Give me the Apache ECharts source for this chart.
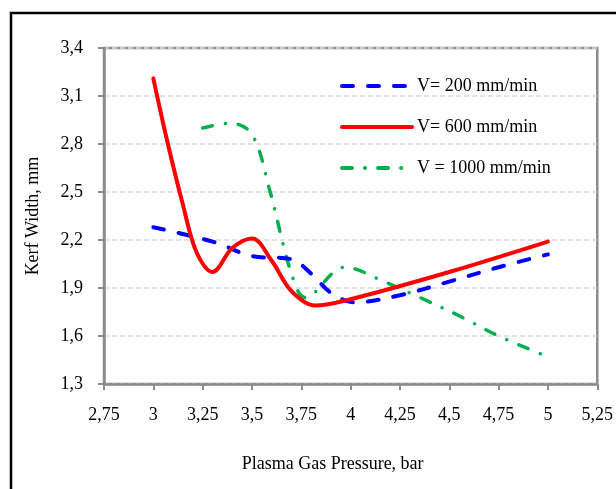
<!DOCTYPE html>
<html><head><meta charset="utf-8">
<script src="https://cdn.jsdelivr.net/npm/echarts@6/dist/echarts.min.js"></script>
<style>html,body{margin:0;padding:0;background:#fff}#c{width:616px;height:489px}</style>
</head><body><div id="c"></div>
<script>
// Data (Plasma Gas Pressure, bar -> Kerf Width, mm)
const seriesNames = ['V= 200 mm/min', 'V= 600 mm/min', 'V = 1000 mm/min'];

const v200X = [3, 3.3, 3.5, 3.7, 3.8, 3.9, 4.02, 4.25, 4.5, 4.75, 5];
const v200Y = [2.28, 2.19, 2.1, 2.08, 1.99, 1.87, 1.81, 1.855, 1.94, 2.03, 2.11];

const v600X = [3, 3.07, 3.15, 3.22, 3.3, 3.4, 3.5, 3.6, 3.7, 3.82, 4, 4.5, 5];
const v600Y = [3.21, 2.82, 2.42, 2.12, 2.0, 2.15, 2.21, 2.07, 1.88, 1.79, 1.83, 2.0, 2.19];

const v1000X = [3.25, 3.39, 3.5, 3.59, 3.7, 3.77, 3.97, 4.17, 4.37, 4.56, 4.75, 5];
const v1000Y = [2.9, 2.93, 2.86, 2.51, 1.99, 1.84, 2.03, 1.94, 1.83, 1.72, 1.6, 1.47];

const xMin = 2.75, xMax = 5.25, xStep = 0.25;
const yMin = 1.3, yMax = 3.4, yStep = 0.3;

const xAxisTitle = 'Plasma Gas Pressure, bar';
const yAxisTitle = 'Kerf Width, mm';

function pairs(xs, ys) { return xs.map((x, i) => [x, ys[i]]); }
function comma(v) { return String(+v.toFixed(2)).replace('.', ','); }

const font = 'Liberation Serif';
const axisGray = '#8c8c8c';

const chart = echarts.init(document.getElementById('c'), null, { renderer: 'canvas' });
chart.setOption({
  animation: false,
  backgroundColor: '#fff',
  textStyle: { fontFamily: font, color: '#000' },
  graphic: [{
    type: 'rect', silent: true,
    shape: { x: 11, y: 13, width: 700, height: 700 },
    style: { fill: 'none', stroke: '#000', lineWidth: 2.5 }
  }],
  grid: { left: 104, right: 18, top: 48, bottom: 105, show: true, borderColor: axisGray, borderWidth: 2.5, backgroundColor: 'transparent' },
  legend: {
    orient: 'vertical', left: 335, top: 72,
    itemWidth: 70, itemHeight: 14, itemGap: 23,
    itemStyle: { opacity: 0 },
    lineStyle: { width: 4, cap: 'round' },
    textStyle: { fontFamily: font, fontSize: 18, color: '#000' },
    data: seriesNames
  },
  xAxis: {
    type: 'value', min: xMin, max: xMax, interval: xStep,
    name: xAxisTitle, nameLocation: 'middle', nameGap: 71,
    nameTextStyle: { fontFamily: font, fontSize: 18, color: '#000', padding: [0, 36, 0, 0] },
    axisLine: { lineStyle: { color: axisGray, width: 2.5 } },
    axisTick: { show: true, inside: false, length: 6, lineStyle: { color: axisGray, width: 2 } },
    axisLabel: { fontFamily: font, fontSize: 18, color: '#000', margin: 22, formatter: comma },
    splitLine: { show: false }
  },
  yAxis: {
    type: 'value', min: yMin, max: yMax, interval: yStep,
    name: yAxisTitle, nameLocation: 'middle', nameGap: 62,
    nameTextStyle: { fontFamily: font, fontSize: 18, color: '#000' },
    axisLine: { show: true, lineStyle: { color: axisGray, width: 2.5 } },
    axisTick: { show: true, inside: false, length: 6, lineStyle: { color: axisGray, width: 2 } },
    axisLabel: { fontFamily: font, fontSize: 18, color: '#000', margin: 21, formatter: comma },
    splitLine: { show: true, lineStyle: { color: '#d9d9d9', type: [5, 3], width: 1.5 } }
  },
  series: [
    {
      name: seriesNames[0], type: 'line', data: pairs(v200X, v200Y),
      smooth: 0.35, symbol: 'none', z: 3,
      lineStyle: { color: '#0000ff', width: 4, type: [11, 15], cap: 'round' },
      itemStyle: { color: '#0000ff' }
    },
    {
      name: seriesNames[1], type: 'line', data: pairs(v600X, v600Y),
      smooth: 0.35, symbol: 'none', z: 4,
      lineStyle: { color: '#ff0000', width: 4, type: 'solid', cap: 'round' },
      itemStyle: { color: '#ff0000' }
    },
    {
      name: seriesNames[2], type: 'line', data: pairs(v1000X, v1000Y),
      smooth: 0.35, symbol: 'none', z: 2,
      lineStyle: { color: '#00b050', width: 3.5, type: [10, 13, 0.1, 13], cap: 'round' },
      itemStyle: { color: '#00b050' }
    }
  ]
});
</script>
</body></html>
